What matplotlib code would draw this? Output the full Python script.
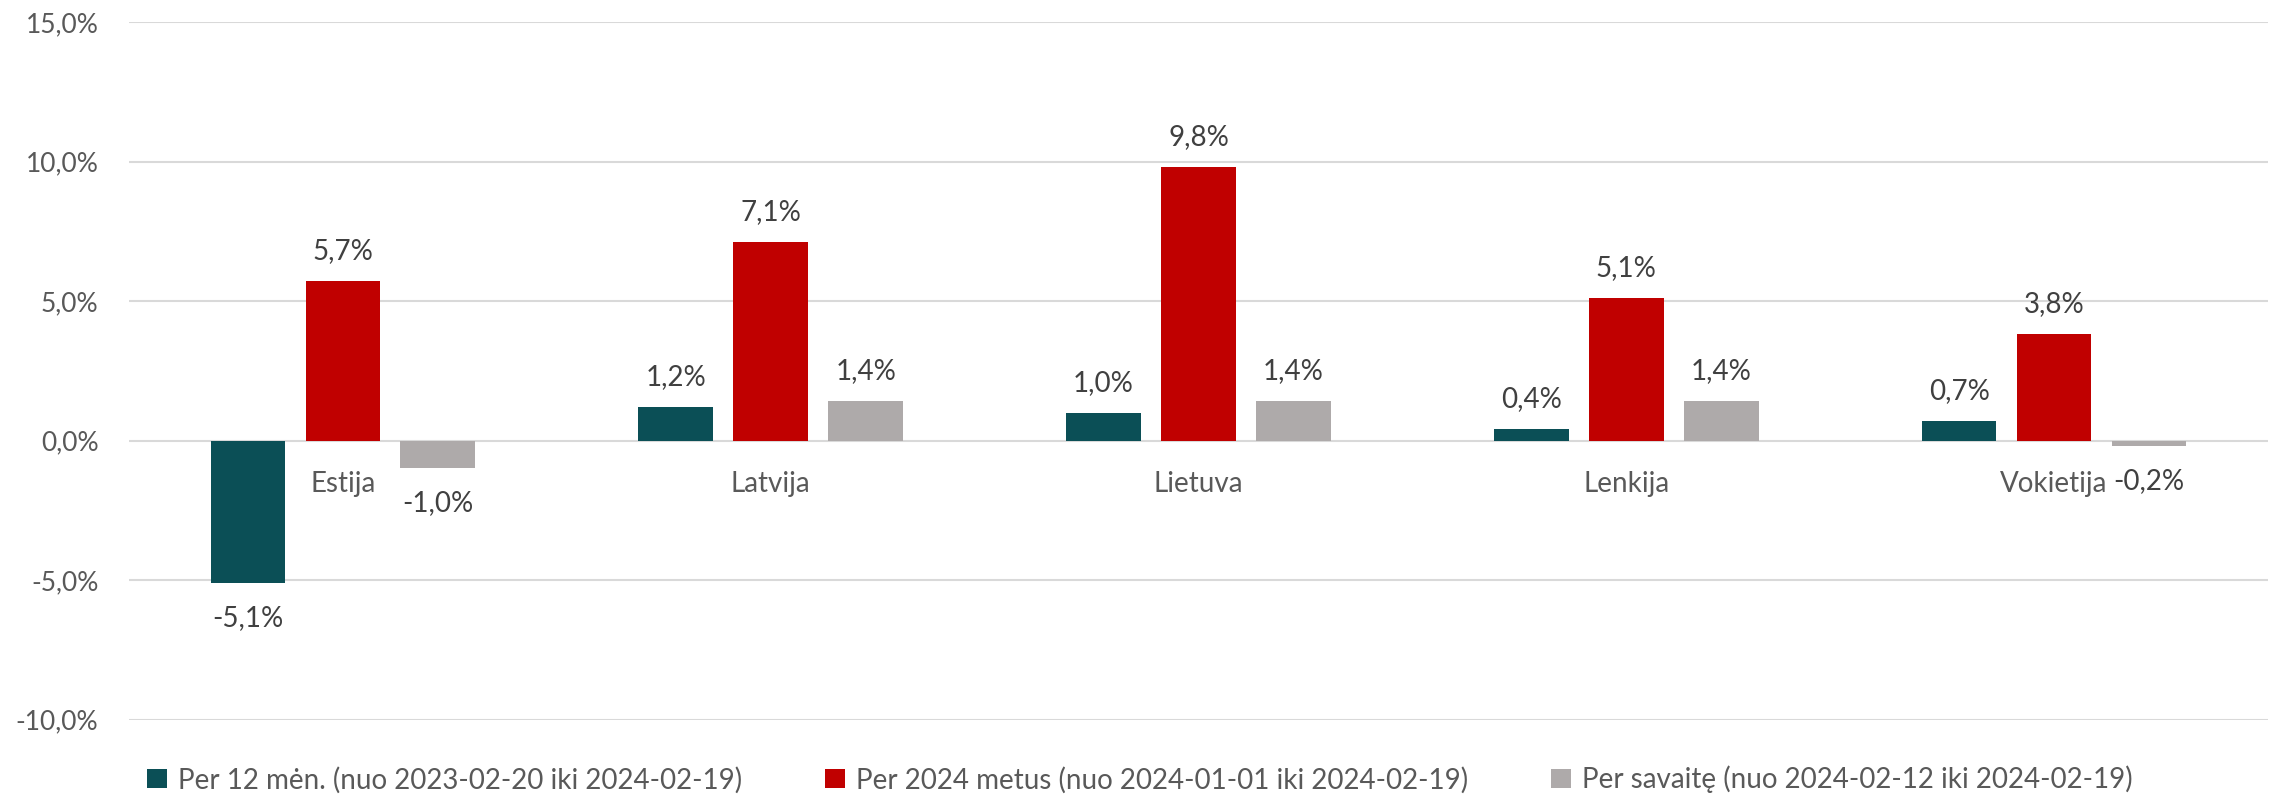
import numpy as np
import matplotlib
matplotlib.use("Agg")
import matplotlib.pyplot as plt

# Chart data
countries = ["Estija", "Latvija", "Lietuva", "Lenkija", "Vokietija"]
per_12_men = [-5.1, 1.2, 1.0, 0.4, 0.7]
per_2024 = [5.7, 7.1, 9.8, 5.1, 3.8]
per_savaite = [-1.0, 1.4, 1.4, 1.4, -0.2]
series_names = [
    "Per 12 mėn. (nuo 2023-02-20 iki 2024-02-19)",
    "Per 2024 metus (nuo 2024-01-01 iki 2024-02-19)",
    "Per savaitę (nuo 2024-02-12 iki 2024-02-19)",
]
y_ticks = [-10, -5, 0, 5, 10, 15]

colors = ["#0B4F56", "#C00000", "#AEAAAA"]
plt.rcParams["font.family"] = ["Lato", "DejaVu Sans"]


def pct(v):
    return f"{v:.1f}%".replace(".", ",")


fig = plt.figure(figsize=(22.8, 7.97), dpi=100)
ax = fig.add_axes([0.0566, 0.0972, 0.9381, 0.8752])

x = np.arange(len(countries))
width = 0.175
offset = 0.222
for k, vals in enumerate([per_12_men, per_2024, per_savaite]):
    pos = x + (k - 1) * offset
    ax.bar(pos, vals, width, color=colors[k], label=series_names[k], zorder=3)
    for px, v in zip(pos, vals):
        if v >= 0:
            ax.annotate(pct(v), (px, v), xytext=(0, 30), textcoords="offset pixels",
                        ha="center", va="center", fontsize=20, color="#404040")
        else:
            ax.annotate(pct(v), (px, v), xytext=(0, -35), textcoords="offset pixels",
                        ha="center", va="center", fontsize=20, color="#404040")

# category labels sit just under the zero line
for i, name in enumerate(countries):
    ax.annotate(name, (i, 0), xytext=(0, -43), textcoords="offset pixels",
                ha="center", va="center", fontsize=20, color="#595959")

ax.set_xlim(-0.5, len(countries) - 0.5)
ax.set_ylim(-10, 15)
ax.set_yticks(y_ticks)
ax.set_yticklabels([pct(t) for t in y_ticks], fontsize=19, color="#595959")
ax.set_xticks([])
ax.tick_params(axis="y", length=0, pad=22)
ax.yaxis.grid(True, color="#D9D9D9", linewidth=1.5, zorder=0)
for s in ax.spines.values():
    s.set_visible(False)

fig.legend(loc="center", bbox_to_anchor=(0.5, 0.022), ncol=3, frameon=False,
           fontsize=20, handlelength=0.7, handleheight=0.7, handletextpad=0.4,
           columnspacing=3.0, labelcolor="#595959")

fig.savefig("out.png", dpi=100)
